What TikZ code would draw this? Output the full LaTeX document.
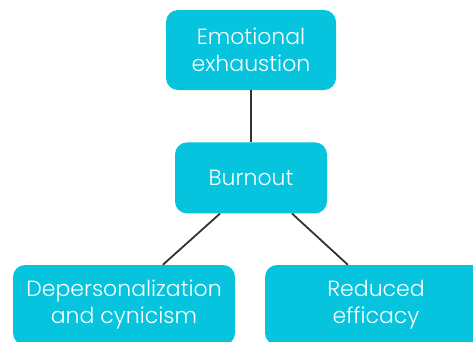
\documentclass[tikz,border=0pt]{standalone}
\usepackage{fontspec}
\setmainfont{Poppins}[UprightFont=* Light]
\usetikzlibrary{positioning}
\definecolor{boxcyan}{HTML}{06C3DE}
\definecolor{linegray}{HTML}{333333}

\begin{document}
\begin{tikzpicture}[x=1pt,y=-1pt,
  box/.style={rectangle,rounded corners=12pt,fill=boxcyan,text=white,
    align=center,inner sep=0pt,font=\fontsize{22}{27}\selectfont},
  link/.style={draw=linegray,line width=1.8pt}]

\useasboundingbox (0,0) rectangle (473,341);

\node[box,minimum width=170pt,minimum height=80pt] (EMO) at (251,50) {Emotional\\exhaustion};
\node[box,minimum width=152pt,minimum height=71pt] (BURN) [below=52pt of EMO] {Burnout};
\node[box,minimum width=222pt,minimum height=80pt] (DEP) at (124,305) {Depersonalization\\and cynicism};
\node[box,minimum width=222pt,minimum height=80pt] (RED) at (376,305) {Reduced\\efficacy};

% connectors
\path (EMO)      edge[link] (BURN)
      (BURN.229) edge[link] (DEP.46)
      (BURN.319) edge[link] (RED.125);

\end{tikzpicture}
\end{document}
